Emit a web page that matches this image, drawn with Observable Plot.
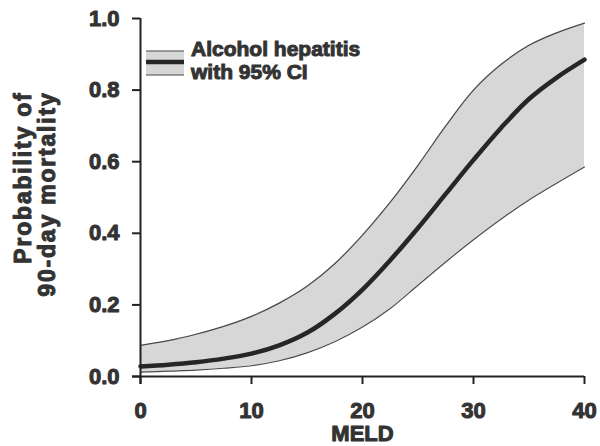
<!DOCTYPE html>
<html>
<head>
<meta charset="utf-8">
<script src="https://cdn.jsdelivr.net/npm/d3@7"></script>
<script src="https://cdn.jsdelivr.net/npm/@observablehq/plot@0.6"></script>
<style>
  html, body { margin: 0; padding: 0; background: #fff; }
  #wrap { position: relative; width: 600px; height: 446px; font-family: "Liberation Sans", Arial, sans-serif; }
  #wrap svg text { stroke: #333; stroke-width: 1px; paint-order: stroke; stroke-linejoin: round; }
  #legend { position: absolute; left: 146px; top: 37px; display: flex; align-items: flex-start; }
  #legend svg { margin-top: 13px; }
  #legend .txt { margin-left: 7px; font-size: 21px; font-weight: bold; line-height: 23px; color: #333; -webkit-text-stroke: 1px #333; }
</style>
</head>
<body>
<div id="wrap"></div>
<script>
// MELD score
const meld = [0, 2.5, 5, 7.5, 10, 12.5, 15, 17.5, 20, 22.5, 25, 27.5, 30, 32.5, 35, 37.5, 40];
// Predicted probability of 90-day mortality (alcoholic hepatitis)
const prob = [0.028, 0.033, 0.040, 0.050, 0.064, 0.087, 0.122, 0.175, 0.243, 0.325, 0.415, 0.51, 0.605, 0.695, 0.775, 0.835, 0.885];
// 95% CI bounds
const upperCI = [0.087, 0.10, 0.118, 0.14, 0.168, 0.205, 0.252, 0.315, 0.395, 0.487, 0.59, 0.70, 0.80, 0.872, 0.925, 0.96, 0.987];
const lowerCI = [0.012, 0.015, 0.018, 0.023, 0.03, 0.044, 0.066, 0.097, 0.138, 0.19, 0.255, 0.32, 0.382, 0.44, 0.493, 0.54, 0.585];
const xTicks = [0, 10, 20, 30, 40];
const yTicks = [0, 0.2, 0.4, 0.6, 0.8, 1.0];
const xTitle = "MELD";
const yTitle = "Probability of\n90-day mortality";
const legendLabel = ["Alcohol hepatitis", "with 95% CI"];

const data = meld.map((m, i) => ({meld: m, p: prob[i], lo: lowerCI[i], hi: upperCI[i]}));
const curve = "catmull-rom";
const ink = "#333";

const chart = Plot.plot({
  width: 600,
  height: 446,
  marginLeft: 140,
  marginRight: 16,
  marginTop: 18,
  marginBottom: 70,
  style: {fontFamily: "'Liberation Sans', Arial, sans-serif", background: "#fff", overflow: "visible"},
  x: {domain: [0, 40]},
  y: {domain: [0, 1]},
  marks: [
    Plot.areaY(data, {x: "meld", y1: "lo", y2: "hi", fill: "#d7d7d7", curve}),
    Plot.lineY(data, {x: "meld", y: "hi", stroke: "#4a4a4a", strokeWidth: 1.2, curve}),
    Plot.lineY(data, {x: "meld", y: "lo", stroke: "#4a4a4a", strokeWidth: 1.2, curve}),
    Plot.lineY(data, {x: "meld", y: "p", stroke: "#262626", strokeWidth: 4.5, curve}),
    Plot.ruleY([0], {stroke: "#222", strokeWidth: 2, insetLeft: -8}),
    Plot.ruleX([0], {stroke: "#222", strokeWidth: 2, insetBottom: -8}),
    Plot.axisX({ticks: xTicks, tickSize: 8, tickPadding: 18, strokeWidth: 2, stroke: "#222",
      tickFormat: d => d, fontSize: 22, fontWeight: "bold", fill: ink, label: null}),
    Plot.axisY({ticks: yTicks, tickSize: 8, tickPadding: 13, strokeWidth: 2, stroke: "#222",
      tickFormat: d3.format(".1f"), fontSize: 22, fontWeight: "bold", fill: ink, label: null}),
    Plot.text([xTitle], {frameAnchor: "bottom", dy: 49, lineAnchor: "top", fontSize: 22,
      fontWeight: "bold", fill: ink}),
    Plot.text([yTitle], {frameAnchor: "top-left", dx: -127, dy: 73, rotate: -90, textAnchor: "end",
      lineAnchor: "top", lineHeight: 1.05, fontSize: 23, fontWeight: "bold", fill: ink})
  ]
});

// widen the rotated y title a little (letter spacing)
d3.select(chart).selectAll("text")
  .filter(function() { return /Probability|mortality/.test(this.textContent); })
  .attr("letter-spacing", "1.8px");

const wrap = document.getElementById("wrap");
wrap.appendChild(chart);

// legend overlay
const legend = document.createElement("div");
legend.id = "legend";
legend.innerHTML = `
  <svg width="38" height="26" viewBox="0 0 38 26">
    <rect x="0" y="1" width="38" height="24" fill="#d7d7d7"></rect>
    <line x1="0" x2="38" y1="1" y2="1" stroke="#4a4a4a" stroke-width="1.2"></line>
    <line x1="0" x2="38" y1="25" y2="25" stroke="#4a4a4a" stroke-width="1.2"></line>
    <line x1="0" x2="38" y1="12" y2="12" stroke="#262626" stroke-width="4.5"></line>
  </svg>
  <div class="txt">${legendLabel.join("<br>")}</div>`;
wrap.appendChild(legend);
</script>
</body>
</html>
